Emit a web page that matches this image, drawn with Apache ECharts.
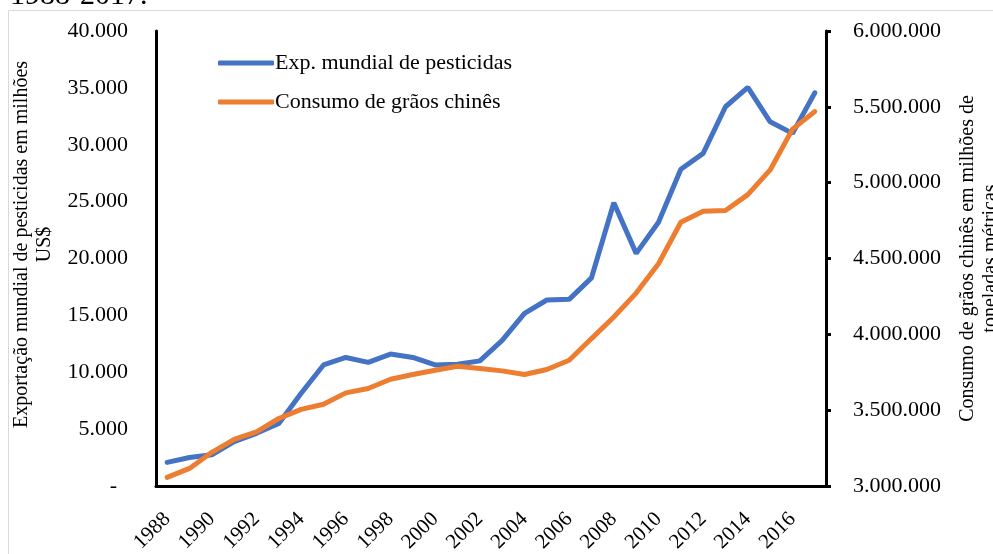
<!DOCTYPE html>
<html>
<head>
<meta charset="utf-8">
<script src="https://cdn.jsdelivr.net/npm/echarts@6/dist/echarts.min.js"></script>
<style>
  html, body { margin: 0; padding: 0; background: #fff; }
  #chart { width: 993px; height: 554px; }
</style>
</head>
<body>
<div id="chart"></div>
<script>
// anos 1988-2017
var years = ['1988','1989','1990','1991','1992','1993','1994','1995','1996','1997',
             '1998','1999','2000','2001','2002','2003','2004','2005','2006','2007',
             '2008','2009','2010','2011','2012','2013','2014','2015','2016','2017']
// exportação mundial de pesticidas (milhões US$)
var exportPest = [2080, 2500, 2750, 3900, 4630, 5500, 8150, 10640, 11300, 10870,
                  11600, 11300, 10640, 10700, 11000, 12800, 15180, 16350, 16410, 18300,
                  24900, 20450, 23180, 27840, 29240, 33340, 35040, 32020, 31000, 34570]
// consumo de grãos chinês
var consumoGraos = [3057000, 3116000, 3222000, 3307000, 3357000, 3445000, 3505000, 3539000, 3614000, 3643000,
                    3704000, 3735000, 3763000, 3789000, 3774000, 3759000, 3735000, 3768000, 3829000, 3972000,
                    4114000, 4272000, 4465000, 4739000, 4811000, 4816000, 4921000, 5084000, 5353000, 5469000]

var serif = '"Liberation Serif", "DejaVu Serif", serif'

function fmtPt(v) {
    if (v === 0) return '-\u00a0\u00a0'
    return String(v).replace(/\B(?=(\d{3})+(?!\d))/g, '.')
}

var myChart = echarts.init(document.getElementById('chart'))
myChart.setOption({
    animation: false,
    textStyle: { fontFamily: serif },
    graphic: [
        {
            type: 'rect', silent: true, z: -1,
            shape: { x: 8.5, y: 10.5, width: 1000, height: 560 },
            style: { fill: 'none', stroke: '#d9d9d9', lineWidth: 1 }
        },
        {
            type: 'text', silent: true,
            style: { x: 10, y: 11, text: '1988-2017.', font: '30px ' + serif, fill: '#000', verticalAlign: 'bottom' }
        }
    ],
    legend: {
        left: 213,
        top: 45,
        orient: 'vertical',
        itemWidth: 56,
        itemHeight: 5,
        itemGap: 13,
        icon: 'roundRect',
        textStyle: { fontSize: 22, lineHeight: 26, color: '#000', fontFamily: serif, padding: [0, 0, 0, -4] },
        data: ['Exp. mundial de pesticidas', 'Consumo de grãos chinês']
    },
    grid: { left: 156, right: 167, top: 31, bottom: 68, outerBoundsMode: 'none' },
    xAxis: {
        type: 'category',
        data: years,
        boundaryGap: true,
        axisLine: { lineStyle: { color: '#000', width: 3 } },
        axisTick: { show: false },
        axisLabel: {
            interval: 1,
            rotate: 45,
            margin: 30,
            fontSize: 21,
            color: '#000',
            fontFamily: serif
        }
    },
    yAxis: [
        {
            type: 'value',
            min: 0, max: 40000, interval: 5000,
            position: 'left',
            name: 'Exportação mundial de pesticidas em milhões\nUS$',
            nameLocation: 'middle',
            nameGap: 92,
            nameRotate: 90,
            nameTextStyle: { fontSize: 20, color: '#000', fontFamily: serif, lineHeight: 23, padding: [0, 0, 0, 28] },
            axisLine: { show: true, lineStyle: { color: '#000', width: 3 } },
            axisTick: { show: false },
            splitLine: { show: false },
            axisLabel: {
                fontSize: 22, color: '#000', margin: 28, fontFamily: serif,
                formatter: fmtPt
            }
        },
        {
            type: 'value',
            min: 3000000, max: 6000000, interval: 500000,
            position: 'right',
            name: 'Consumo de grãos chinês em milhões de\ntoneladas métricas',
            nameLocation: 'middle',
            nameGap: 130,
            nameRotate: 90,
            nameTextStyle: { fontSize: 20, color: '#000', fontFamily: serif, lineHeight: 23 },
            axisLine: { show: true, lineStyle: { color: '#000', width: 3 } },
            axisTick: { show: true, inside: false, length: 5, lineStyle: { color: '#000', width: 3 } },
            splitLine: { show: false },
            axisLabel: {
                fontSize: 22, color: '#000', margin: 27, fontFamily: serif,
                formatter: fmtPt
            }
        }
    ],
    series: [
        {
            name: 'Exp. mundial de pesticidas',
            type: 'line',
            yAxisIndex: 0,
            data: exportPest,
            symbol: 'none',
            itemStyle: { color: '#4472C4' },
            lineStyle: { color: '#4472C4', width: 5, cap: 'round' }
        },
        {
            name: 'Consumo de grãos chinês',
            type: 'line',
            yAxisIndex: 1,
            data: consumoGraos,
            symbol: 'none',
            itemStyle: { color: '#ED7D31' },
            lineStyle: { color: '#ED7D31', width: 5, cap: 'round' }
        }
    ]
})
</script>
</body>
</html>
